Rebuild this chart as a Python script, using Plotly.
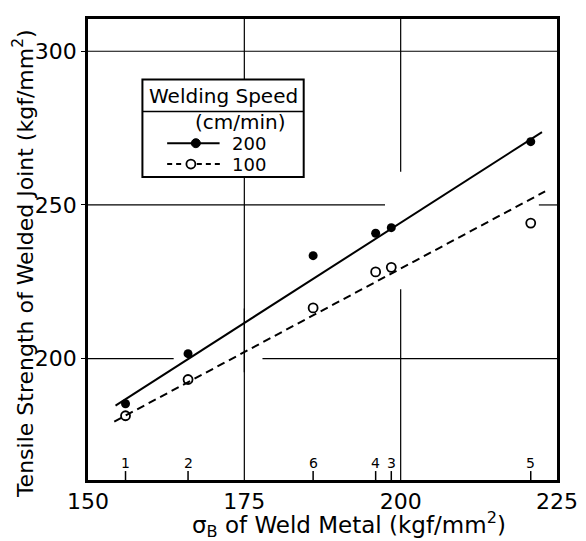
import plotly.graph_objects as go

# ---- data ----
specimen = ["1", "2", "6", "4", "3", "5"]
sigma_b = [156.0, 166.0, 186.0, 196.0, 198.5, 220.8]
joint_200 = [185.3, 201.6, 233.5, 240.8, 242.6, 270.6]
joint_100 = [181.4, 193.2, 216.5, 228.2, 229.7, 244.1]

fit_x_200 = [154.4, 222.6]
fit_y_200 = [184.7, 273.7]
fit_x_100 = [154.2, 223.1]
fit_y_100 = [179.5, 254.4]

x_ticks = [150, 175, 200, 225]
y_ticks = [200, 250, 300]
x_range = [150, 225]
y_range = [160.5, 310.5]

# grid segments (value, from, to) - drawn with gaps where the fit lines cross
h_grid = [(300, 150, 225), (250, 150, 197.5), (250, 222.1, 225),
          (200, 150, 163.7), (200, 177.9, 225)]
v_grid = [(175, 195.6, 310.5), (175, 160.5, 216.3),
          (200, 260.8, 310.5), (200, 160.5, 222.6)]

FONT = "DejaVu Sans"
OFF = 8                      # default page body margin
W, H = 586 - OFF, 541 - OFF
L, R, T, B = 88, 562, 16, 480   # plot area in window pixels


def px(xp):
    return (xp - L) / (R - L)


def py(yp):
    return (B - yp) / (B - T)


fig = go.Figure()

fig.add_trace(go.Scatter(x=fit_x_200, y=fit_y_200, mode="lines",
                         line=dict(color="black", width=2), hoverinfo="skip"))
fig.add_trace(go.Scatter(x=fit_x_100, y=fit_y_100, mode="lines",
                         line=dict(color="black", width=2, dash="8px,5px"),
                         hoverinfo="skip"))
fig.add_trace(go.Scatter(x=sigma_b, y=joint_200, mode="markers", name="200",
                         marker=dict(symbol="circle", size=9, color="black")))
fig.add_trace(go.Scatter(x=sigma_b, y=joint_100, mode="markers", name="100",
                         marker=dict(symbol="circle-open", size=9, color="black",
                                     line=dict(width=1.8, color="black"))))

shapes = []
for yv, a, b in h_grid:
    shapes.append(dict(type="line", xref="x", yref="y", x0=a, x1=b, y0=yv, y1=yv,
                       line=dict(color="black", width=1.2), layer="below"))
for xv, a, b in v_grid:
    shapes.append(dict(type="line", xref="x", yref="y", x0=xv, x1=xv, y0=a, y1=b,
                       line=dict(color="black", width=1.2), layer="below"))

annotations = []
# specimen ticks on the x axis
for s, xv in zip(specimen, sigma_b):
    shapes.append(dict(type="line", xref="x", yref="paper", x0=xv, x1=xv,
                       y0=0, y1=9 / (B - T), line=dict(color="black", width=1.5)))
    annotations.append(dict(x=xv, y=py(463), xref="x", yref="paper", text=s,
                            showarrow=False, font=dict(family=FONT, size=14, color="black"),
                            xanchor="center", yanchor="middle"))

# ---- legend box ----
lb_l, lb_r, lb_t, lb_b, lb_sep = 143, 306, 77, 175, 109
row1, row2 = 141, 162
shapes.append(dict(type="rect", xref="paper", yref="paper", x0=px(lb_l), x1=px(lb_r),
                   y0=py(lb_b), y1=py(lb_t), fillcolor="white",
                   line=dict(color="black", width=2), layer="above"))
shapes.append(dict(type="line", xref="paper", yref="paper", x0=px(lb_l), x1=px(lb_r),
                   y0=py(lb_sep), y1=py(lb_sep), line=dict(color="black", width=1.5)))
# legend glyphs
shapes.append(dict(type="line", xref="paper", yref="paper", x0=px(168), x1=px(221),
                   y0=py(row1), y1=py(row1), line=dict(color="black", width=2)))
shapes.append(dict(type="circle", xref="paper", yref="paper", xsizemode="pixel",
                   ysizemode="pixel", xanchor=px(197), yanchor=py(row1),
                   x0=-4.5, x1=4.5, y0=-4.5, y1=4.5, fillcolor="black",
                   line=dict(color="black", width=1)))
shapes.append(dict(type="line", xref="paper", yref="paper", x0=px(168), x1=px(186),
                   y0=py(row2), y1=py(row2), line=dict(color="black", width=2, dash="5px,4px")))
shapes.append(dict(type="line", xref="paper", yref="paper", x0=px(198), x1=px(225),
                   y0=py(row2), y1=py(row2), line=dict(color="black", width=2, dash="5px,4px")))
shapes.append(dict(type="circle", xref="paper", yref="paper", xsizemode="pixel",
                   ysizemode="pixel", xanchor=px(192), yanchor=py(row2),
                   x0=-4.5, x1=4.5, y0=-4.5, y1=4.5, fillcolor="white",
                   line=dict(color="black", width=1.8)))

legend_font = dict(family=FONT, size=20, color="black")
annotations += [
    dict(x=px(225), y=py(93), xref="paper", yref="paper", text="Welding Speed",
         showarrow=False, font=legend_font, xanchor="center", yanchor="middle"),
    dict(x=px(242), y=py(120), xref="paper", yref="paper", text="(cm/min)",
         showarrow=False, font=legend_font, xanchor="center", yanchor="middle",
         height=20),
    dict(x=px(232), y=py(row1), xref="paper", yref="paper", text="200",
         showarrow=False, font=dict(family=FONT, size=18, color="black"),
         xanchor="left", yanchor="middle", height=18),
    dict(x=px(232), y=py(row2), xref="paper", yref="paper", text="100",
         showarrow=False, font=dict(family=FONT, size=18, color="black"),
         xanchor="left", yanchor="middle", height=18),
]

# axis titles
annotations += [
    dict(x=px(23), y=py(262), xref="paper", yref="paper",
         text="Tensile Strength of Welded Joint (kgf/mm<sup>2</sup>)",
         textangle=-90, showarrow=False,
         font=dict(family=FONT, size=22, color="black"),
         xanchor="center", yanchor="middle"),
    dict(x=px(352), y=py(525), xref="paper", yref="paper",
         text="σ<sub>B</sub> of Weld Metal (kgf/mm<sup>2</sup>)",
         showarrow=False, font=dict(family=FONT, size=23, color="black"),
         xanchor="center", yanchor="middle"),
]

fig.update_layout(
    width=W, height=H,
    margin=dict(l=L - OFF, r=(W + OFF) - R, t=T - OFF, b=(H + OFF) - B, pad=0),
    paper_bgcolor="white", plot_bgcolor="white",
    showlegend=False,
    shapes=shapes, annotations=annotations,
    font=dict(family=FONT, color="black"),
)
fig.update_xaxes(range=x_range, tickvals=x_ticks, ticktext=[str(v) for v in x_ticks],
                 showgrid=False, zeroline=False, showline=True, mirror=True,
                 linecolor="black", linewidth=2.5, ticks="", ticklen=0,
                 ticklabelstandoff=0,
                 tickfont=dict(family=FONT, size=22, color="black"))
fig.update_yaxes(range=y_range, tickvals=y_ticks, ticktext=[str(v) for v in y_ticks],
                 showgrid=False, zeroline=False, showline=True, mirror=True,
                 linecolor="black", linewidth=2.5, ticks="outside", ticklen=4,
                 tickcolor="black", tickwidth=1.2,
                 tickfont=dict(family=FONT, size=22, color="black"))

fig.write_html("out.html")
